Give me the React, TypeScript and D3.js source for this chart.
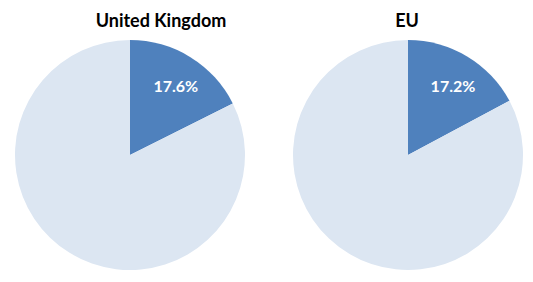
import React from "react";
import * as d3 from "d3";

const regions = ["United Kingdom", "EU"];
const shares = [17.6, 17.2];
const labels = ["17.6%", "17.2%"];

const width = 533;
const height = 282;

const centersX = [130, 408];
const titleX = [161, 407];
const cy = 155;
const radius = 115;

const App = () => {
  const pie = d3
    .pie<number>()
    .sort(null)
    .value((d) => d);
  const arc = d3.arc<d3.PieArcDatum<number>>().innerRadius(0).outerRadius(radius);
  // label sits a bit further out than the slice centroid, like the original
  const labelArc = d3
    .arc<d3.PieArcDatum<number>>()
    .innerRadius(radius * 0.71)
    .outerRadius(radius * 0.71);

  return (
    <svg
      width={width}
      height={height}
      style={{ position: "absolute", left: 0, top: 0, background: "#fff" }}
      fontFamily="Lato, 'Liberation Sans', sans-serif"
    >
      {regions.map((name, i) => {
        const arcs = pie([shares[i], 100 - shares[i]]);
        const [lx, ly] = labelArc.centroid(arcs[0]);
        return (
          <g key={name}>
            <text
              x={titleX[i]}
              y={27}
              textAnchor="middle"
              fontWeight="bold"
              fontSize={18}
              fill="#000"
            >
              {name}
            </text>
            <g transform={`translate(${centersX[i]},${cy})`}>
              {arcs.map((a, j) => (
                <path key={j} d={arc(a) || ""} fill={j === 0 ? "#4F81BD" : "#DCE6F2"} />
              ))}
              <text
                x={lx + 3}
                y={ly + 1}
                dy="0.35em"
                textAnchor="middle"
                fontWeight="bold"
                fontSize={16}
                fill="#fff"
              >
                {labels[i]}
              </text>
            </g>
          </g>
        );
      })}
    </svg>
  );
};

export default App;
